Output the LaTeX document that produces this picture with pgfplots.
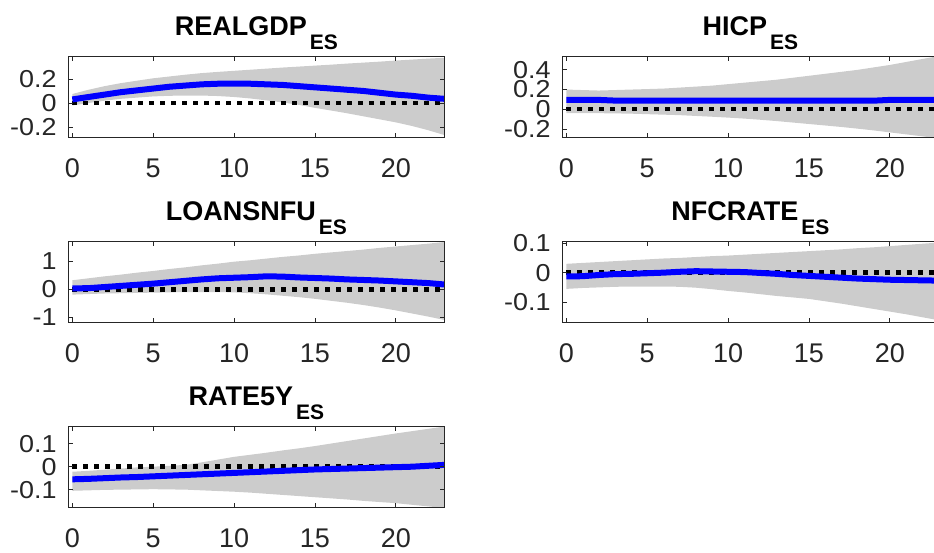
\documentclass[border=0pt]{standalone}
\usepackage{pgfplots}
\pgfplotsset{compat=1.18}
\usepgfplotslibrary{fillbetween}
\usepackage{pgfplotstable}
\usepackage{fontspec}
\setmainfont{Liberation Sans}
\newfontfamily\tickfont{Liberation Sans}[FakeStretch=1.1]
\definecolor{band}{RGB}{204,204,204}
\definecolor{axgray}{RGB}{38,38,38}
\definecolor{irfblue}{RGB}{0,0,255}

% REALGDP
\pgfplotstableread{
t m lo hi
0 0.030 -0.020 0.075
1 0.050 0.000 0.110
2 0.070 0.020 0.140
3 0.090 0.035 0.165
4 0.105 0.045 0.185
5 0.120 0.055 0.205
6 0.135 0.060 0.220
7 0.145 0.062 0.235
8 0.155 0.062 0.248
9 0.160 0.058 0.258
10 0.160 0.050 0.267
11 0.160 0.038 0.276
12 0.155 0.022 0.285
13 0.150 0.005 0.294
14 0.140 -0.015 0.302
15 0.130 -0.040 0.310
16 0.120 -0.062 0.318
17 0.110 -0.085 0.327
18 0.100 -0.110 0.335
19 0.085 -0.135 0.343
20 0.070 -0.160 0.352
21 0.060 -0.190 0.360
22 0.045 -0.225 0.368
23 0.035 -0.265 0.375
}\tA
% HICP
\pgfplotstableread{
t m lo hi
0 0.095 -0.040 0.200
1 0.095 -0.040 0.195
2 0.095 -0.040 0.190
3 0.088 -0.042 0.195
4 0.088 -0.045 0.200
5 0.088 -0.050 0.205
6 0.088 -0.055 0.210
7 0.088 -0.060 0.220
8 0.087 -0.068 0.230
9 0.087 -0.076 0.240
10 0.087 -0.085 0.255
11 0.087 -0.095 0.270
12 0.087 -0.107 0.285
13 0.087 -0.120 0.300
14 0.087 -0.135 0.320
15 0.087 -0.150 0.340
16 0.087 -0.165 0.360
17 0.087 -0.180 0.380
18 0.087 -0.197 0.400
19 0.087 -0.215 0.425
20 0.095 -0.235 0.450
21 0.095 -0.255 0.480
22 0.095 -0.275 0.510
23 0.095 -0.295 0.540
}\tB
% LOANSNFU
\pgfplotstableread{
t m lo hi
0 0.03 -0.19 0.32
1 0.04 -0.17 0.39
2 0.08 -0.15 0.46
3 0.12 -0.14 0.52
4 0.16 -0.13 0.59
5 0.20 -0.12 0.65
6 0.25 -0.11 0.72
7 0.30 -0.10 0.78
8 0.35 -0.10 0.85
9 0.39 -0.10 0.91
10 0.41 -0.11 0.98
11 0.43 -0.14 1.03
12 0.46 -0.18 1.09
13 0.45 -0.23 1.15
14 0.42 -0.28 1.20
15 0.40 -0.34 1.26
16 0.38 -0.41 1.31
17 0.35 -0.48 1.36
18 0.33 -0.56 1.41
19 0.31 -0.65 1.47
20 0.28 -0.75 1.52
21 0.25 -0.86 1.57
22 0.22 -0.97 1.62
23 0.17 -1.09 1.68
}\tC
% NFCRATE
\pgfplotstableread{
t m lo hi
0 -0.013 -0.055 0.030
1 -0.012 -0.052 0.033
2 -0.008 -0.050 0.036
3 -0.005 -0.048 0.039
4 -0.004 -0.047 0.042
5 -0.002 -0.047 0.045
6 0.000 -0.047 0.048
7 0.003 -0.048 0.050
8 0.005 -0.051 0.053
9 0.004 -0.056 0.056
10 0.003 -0.062 0.058
11 0.002 -0.067 0.061
12 -0.001 -0.073 0.064
13 -0.004 -0.079 0.067
14 -0.008 -0.084 0.070
15 -0.011 -0.089 0.073
16 -0.014 -0.097 0.076
17 -0.017 -0.105 0.079
18 -0.020 -0.114 0.083
19 -0.022 -0.123 0.086
20 -0.024 -0.132 0.090
21 -0.025 -0.141 0.094
22 -0.026 -0.151 0.098
23 -0.027 -0.161 0.102
}\tD
% RATE5Y
\pgfplotstableread{
t m lo hi
0 -0.055 -0.105 -0.022
1 -0.053 -0.103 -0.018
2 -0.050 -0.101 -0.013
3 -0.047 -0.100 -0.008
4 -0.045 -0.099 -0.003
5 -0.042 -0.098 0.000
6 -0.039 -0.099 0.004
7 -0.036 -0.100 0.008
8 -0.033 -0.103 0.019
9 -0.030 -0.106 0.031
10 -0.027 -0.109 0.043
11 -0.024 -0.113 0.052
12 -0.021 -0.118 0.061
13 -0.018 -0.123 0.071
14 -0.015 -0.128 0.080
15 -0.012 -0.133 0.090
16 -0.010 -0.138 0.101
17 -0.008 -0.143 0.112
18 -0.006 -0.149 0.123
19 -0.004 -0.154 0.134
20 -0.002 -0.159 0.145
21 0.000 -0.166 0.155
22 0.004 -0.173 0.165
23 0.008 -0.180 0.175
}\tE

\pgfplotsset{irf/.style={
  scale only axis, width=376pt, height=80.5pt,
  xmin=-0.25, xmax=23,
  xtick={0,5,10,15,20},
  axis on top,
  axis line style={axgray, line width=0.8pt},
  every tick/.style={axgray, line width=0.8pt},
  major tick length=4.3pt,
  tick align=inside,
  xtick pos=both, ytick pos=both,
  xticklabel pos=bottom, yticklabel pos=left,
  /pgf/number format/assume math mode=true,
  yticklabel style={font=\tickfont\fontsize{24.5}{24.5}\selectfont, text=axgray, inner sep=0pt, anchor=east, xshift=-11.6pt},
  xticklabel style={font=\fontsize{27}{27}\selectfont, text=axgray, inner sep=0pt, anchor=north, yshift=-21.6pt},
  title style={at={(0.5,1)}, anchor=base, yshift=15pt, inner sep=0pt, font=\fontsize{27}{27}\selectfont\bfseries},
}}
\newcommand\sub[1]{\hspace{3pt}\raisebox{-14pt}{\fontsize{21}{21}\selectfont #1}}
\newcommand\irfplots[1]{%
  \addplot[name path=hi, draw=none] table[x=t,y=hi]{#1};
  \addplot[name path=lo, draw=none] table[x=t,y=lo]{#1};
  \addplot[band, draw=none] fill between[of=hi and lo];
  \addplot[black, line width=4.5pt, dash pattern=on 4.5pt off 6.5pt] coordinates {(0,0) (23,0)};
  \addplot[irfblue, line width=6pt] table[x=t,y=m]{#1};
}

\begin{document}
\begin{tikzpicture}
\begin{axis}[irf, at={(68.3pt,-137.2pt)}, anchor=south west,
  ymin=-0.283, ymax=0.384, ytick={-0.2,0,0.2},
  title={REALGDP\sub{ES}}]
\irfplots{\tA}
\end{axis}
\begin{axis}[irf, at={(562.3pt,-137.2pt)}, anchor=south west,
  ymin=-0.284, ymax=0.534, ytick={-0.2,0,0.2,0.4},
  title={HICP\sub{ES}}]
\irfplots{\tB}
\end{axis}
\begin{axis}[irf, at={(68.3pt,-322.2pt)}, anchor=south west,
  ymin=-1.17, ymax=1.69, ytick={-1,0,1},
  title={LOANSNFU\sub{ES}}]
\irfplots{\tC}
\end{axis}
\begin{axis}[irf, at={(562.3pt,-322.2pt)}, anchor=south west,
  ymin=-0.168, ymax=0.105, ytick={-0.1,0,0.1},
  title={NFCRATE\sub{ES}}]
\irfplots{\tD}
\end{axis}
\begin{axis}[irf, at={(68.3pt,-507.3pt)}, anchor=south west,
  ymin=-0.177, ymax=0.174, ytick={-0.1,0,0.1},
  title={RATE5Y\sub{ES}}]
\irfplots{\tE}
\end{axis}
\pgfresetboundingbox
\path (0pt,0pt) rectangle (934pt,-553pt);
\end{tikzpicture}
\end{document}
